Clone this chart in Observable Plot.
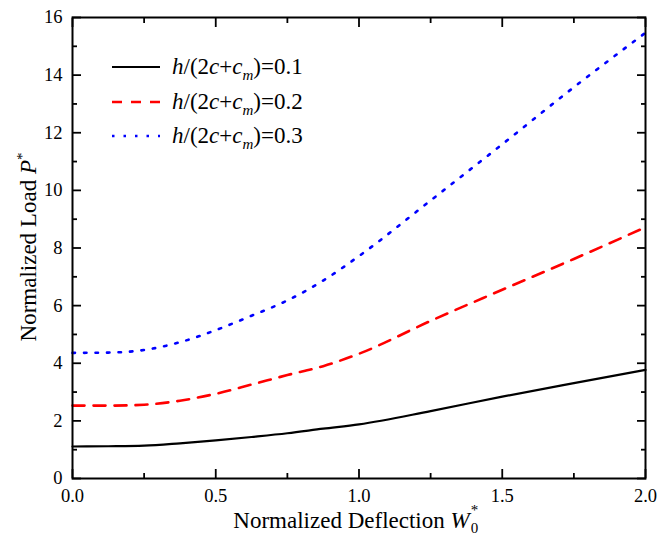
<!DOCTYPE html>
<html>
<head>
<meta charset="utf-8">
<script src="https://cdn.jsdelivr.net/npm/d3@7"></script>
<script src="https://cdn.jsdelivr.net/npm/@observablehq/plot@0.6"></script>
<style>
  html, body { margin: 0; padding: 0; background: #fff; }
  #wrap { position: relative; width: 657px; height: 549px; font-family: 'Liberation Serif', 'DejaVu Serif', serif; color: #000; }
  #wrap svg text { font-family: 'Liberation Serif', 'DejaVu Serif', serif; }
  #legend { position: absolute; left: 104px; top: 50px; font-size: 23px; line-height: 34.5px; }
  #legend .row { display: flex; align-items: center; white-space: nowrap; height: 34.5px; }
  #legend svg { margin-right: 10px; }
  sub { font-size: 15px; vertical-align: -6px; line-height: 0; }
  #ylab { position: absolute; left: 29px; top: 247px; transform: translate(-50%, -50%) rotate(-90deg); font-size: 23px; white-space: nowrap; }
  #xlab { position: absolute; left: 357px; top: 521px; transform: translate(-50%, -50%); font-size: 23px; white-space: nowrap; line-height: 26px; }
  .ss { display: inline-block; position: relative; width: 10px; height: 10px; font-size: 15px; margin-left: 1px; }
  .ss .sup { position: absolute; left: 0; top: -15px; line-height: 15px; }
  .ss .sub { position: absolute; left: 0; top: 3px; line-height: 15px; }
</style>
</head>
<body>
<div id="wrap"></div>
<script>
// Data
const deflection = [0, 0.125, 0.25, 0.375, 0.5, 0.625, 0.75, 0.875, 1.0, 1.25, 1.5, 1.75, 2.0];
const load01 = [1.11, 1.12, 1.14, 1.22, 1.32, 1.44, 1.57, 1.73, 1.88, 2.34, 2.84, 3.31, 3.77];
const load02 = [2.53, 2.53, 2.56, 2.70, 2.94, 3.26, 3.59, 3.90, 4.33, 5.47, 6.55, 7.62, 8.72];
const load03 = [4.36, 4.37, 4.46, 4.73, 5.15, 5.65, 6.18, 6.87, 7.72, 9.65, 11.6, 13.58, 15.47];
const seriesNames = ["0.1", "0.2", "0.3"];
const seriesColors = ["#000000", "#ff0000", "#0000ff"];
const seriesDash = [null, "12 9", "2.5 9"];
const xMajor = [0, 0.5, 1.0, 1.5, 2.0];
const xMinor = [0.25, 0.75, 1.25, 1.75];
const yMajor = [0, 2, 4, 6, 8, 10, 12, 14, 16];
const yMinor = [1, 3, 5, 7, 9, 11, 13, 15];

const allLoads = [load01, load02, load03];
const rows = allLoads.map((arr, i) => arr.map((v, j) => ({x: deflection[j], y: v, s: i})));

const lineMarks = rows.map((r, i) => Plot.line(r, {
  x: "x", y: "y", stroke: seriesColors[i], strokeWidth: i === 0 ? 2.2 : 2.6,
  strokeDasharray: seriesDash[i], curve: "monotone-x"
}));

const noText = () => "";
const TS = -9, TSm = -5;

const chart = Plot.plot({
  width: 657,
  height: 549,
  marginLeft: 72,
  marginRight: 12,
  marginTop: 17,
  marginBottom: 71,
  style: {fontFamily: "'Liberation Serif', 'DejaVu Serif', serif", fontSize: "18.5px", color: "#000", background: "#fff"},
  x: {domain: [0, 2]},
  y: {domain: [0, 16]},
  marks: [
    ...lineMarks,
    Plot.axisX(xMajor, {anchor: "bottom", tickSize: TS, tickPadding: 19, tickFormat: d3.format(".1f"), label: null, strokeWidth: 1.8}),
    Plot.axisX(xMinor, {anchor: "bottom", tickSize: TSm, tickFormat: noText, label: null, strokeWidth: 1.8}),
    Plot.axisX(xMajor, {anchor: "top", tickSize: TS, tickFormat: noText, label: null, strokeWidth: 1.8}),
    Plot.axisX(xMinor, {anchor: "top", tickSize: TSm, tickFormat: noText, label: null, strokeWidth: 1.8}),
    Plot.axisY(yMajor, {anchor: "left", tickSize: TS, tickPadding: 19, tickFormat: d3.format("d"), label: null, strokeWidth: 1.8}),
    Plot.axisY(yMinor, {anchor: "left", tickSize: TSm, tickFormat: noText, label: null, strokeWidth: 1.8}),
    Plot.axisY(yMajor, {anchor: "right", tickSize: TS, tickFormat: noText, label: null, strokeWidth: 1.8}),
    Plot.axisY(yMinor, {anchor: "right", tickSize: TSm, tickFormat: noText, label: null, strokeWidth: 1.8}),
    Plot.frame({stroke: "#000", strokeWidth: 2})
  ]
});

const wrap = document.getElementById("wrap");
wrap.appendChild(chart);

// Legend
const legend = document.createElement("div");
legend.id = "legend";
seriesNames.forEach((name, i) => {
  const row = document.createElement("div");
  row.className = "row";
  const svg = d3.create("svg").attr("width", 58).attr("height", 10);
  svg.append("line").attr("x1", 8).attr("x2", 56).attr("y1", 5).attr("y2", 5)
    .attr("stroke", seriesColors[i]).attr("stroke-width", i === 0 ? 2.2 : 2.6)
    .attr("stroke-dasharray", i === 1 ? "10 9" : seriesDash[i]);
  row.appendChild(svg.node());
  const t = document.createElement("span");
  t.innerHTML = `<i>h</i>/(2<i>c</i>+<i>c</i><sub><i>m</i></sub>)=${name}`;
  row.appendChild(t);
  legend.appendChild(row);
});
wrap.appendChild(legend);

const ylab = document.createElement("div");
ylab.id = "ylab";
ylab.innerHTML = `Normalized Load <i>P</i><sup style="font-size:15px;vertical-align:9px;line-height:0">*</sup>`;
wrap.appendChild(ylab);

const xlab = document.createElement("div");
xlab.id = "xlab";
xlab.innerHTML = `Normalized Deflection <i>W</i><span class="ss"><span class="sup">*</span><span class="sub">0</span></span>`;
wrap.appendChild(xlab);
</script>
</body>
</html>
